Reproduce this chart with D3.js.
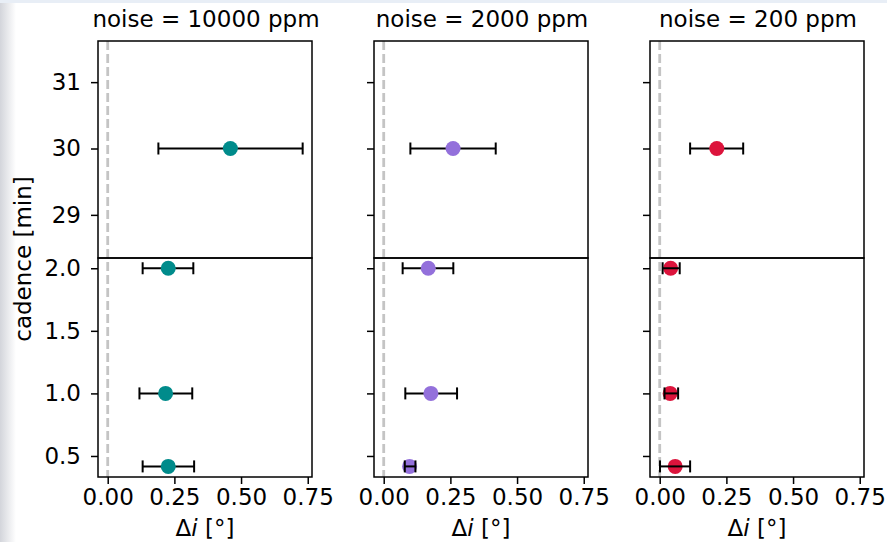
<!DOCTYPE html>
<html>
<head>
<meta charset="utf-8">
<script src="https://cdn.jsdelivr.net/npm/d3@7"></script>
<style>
  body { margin: 0; background: #fff; }
  svg { display: block; font-family: "DejaVu Sans", sans-serif; }
  .tick line { stroke: #000; stroke-width: 1.5; }
  .domain { display: none; }
</style>
</head>
<body>
<svg width="887" height="542"></svg>
<script>
// cadence of each run in minutes (25 s for the last one)
var cadences = [30, 2.0, 1.0, 25 / 60];

var noiseTitles = ["noise = 10000 ppm", "noise = 2000 ppm", "noise = 200 ppm"];
var colors = ["#008b8b", "#9370db", "#dc143c"];

// delta i in degrees, with lower / upper end of the error bar
var di10000 = [0.460, 0.227, 0.217, 0.227];
var lo10000 = [0.190, 0.131, 0.119, 0.131];
var hi10000 = [0.731, 0.321, 0.317, 0.324];

var di2000 = [0.260, 0.167, 0.177, 0.097];
var lo2000 = [0.100, 0.071, 0.081, 0.079];
var hi2000 = [0.420, 0.261, 0.275, 0.119];

var di200 = [0.214, 0.041, 0.039, 0.058];
var lo200 = [0.114, 0.011, 0.018, 0.001];
var hi200 = [0.313, 0.075, 0.069, 0.114];

var xTicks = [0, 0.25, 0.5, 0.75];
var yTicksTop = [29, 30, 31];
var yTicksBottom = [0.5, 1.0, 1.5, 2.0];

var series = [
    { di: di10000, lo: lo10000, hi: hi10000 },
    { di: di2000, lo: lo2000, hi: hi2000 },
    { di: di200, lo: lo200, hi: hi200 }
];

var FONT = "DejaVu Sans";
var FS = 23;

var svg = d3.select("svg");

// faint strip of the slide behind the figure
var defs = svg.append("defs");
var grad = defs.append("linearGradient").attr("id", "edge");
grad.append("stop").attr("offset", "0%").attr("stop-color", "#d3d5db");
grad.append("stop").attr("offset", "100%").attr("stop-color", "#fff");
svg.append("rect").attr("x", 0).attr("y", 0).attr("width", 16).attr("height", 542).attr("fill", "url(#edge)");
svg.append("rect").attr("x", 0).attr("y", 0).attr("width", 887).attr("height", 3).attr("fill", "#e8eef6");

var panelLefts = [98, 374, 650];
var panelW = 214;
var topY = 41, midY = 258, botY = 477;
var r = 7.5;

function styleAxis(sel) {
    sel.attr("font-family", FONT).attr("font-size", FS);
    sel.selectAll(".tick text").attr("fill", "#000");
}

panelLefts.forEach(function (left, p) {
    var x = d3.scaleLinear().domain([-0.0364, 0.766]).range([left, left + panelW]);
    var yTop = d3.scaleLinear().domain([28.35, 31.62]).range([midY, topY]);
    var yBot = d3.scaleLinear().domain([0.332, 2.082]).range([botY, midY]);
    var g = svg.append("g");

    // reference line at zero
    g.append("line")
        .attr("x1", x(0)).attr("x2", x(0))
        .attr("y1", topY).attr("y2", botY)
        .attr("stroke", "#c4c4c4").attr("stroke-width", 2.8)
        .attr("stroke-dasharray", "9,4");

    var s = series[p];
    var pts = cadences.map(function (c, i) {
        return { c: c, di: s.di[i], lo: s.lo[i], hi: s.hi[i] };
    });

    pts.forEach(function (d) {
        var y = d.c > 10 ? yTop(d.c) : yBot(d.c);
        var x0 = x(d.lo), x1 = x(d.hi);
        var bar = g.append("g");
        bar.append("line").attr("x1", x0).attr("x2", x1).attr("y1", y).attr("y2", y);
        bar.append("line").attr("x1", x0).attr("x2", x0).attr("y1", y - 6).attr("y2", y + 6);
        bar.append("line").attr("x1", x1).attr("x2", x1).attr("y1", y - 6).attr("y2", y + 6);
        bar.selectAll("line").attr("stroke", "#000").attr("stroke-width", 2);
        g.append("circle").attr("cx", x(d.di)).attr("cy", y).attr("r", r)
            .attr("fill", colors[p]);
        // short bars end up drawn over the marker
        if (x1 - x0 < 40) bar.raise();
    });

    var axTop = d3.axisLeft(yTop).tickValues(yTicksTop).tickSize(7).tickPadding(10)
        .tickFormat(p === 0 ? d3.format("d") : "");
    g.append("g").attr("transform", "translate(" + left + ",0)").call(axTop).call(styleAxis);

    var axBot = d3.axisLeft(yBot).tickValues(yTicksBottom).tickSize(7).tickPadding(10)
        .tickFormat(p === 0 ? d3.format(".1f") : "");
    g.append("g").attr("transform", "translate(" + left + ",0)").call(axBot).call(styleAxis);

    var axX = d3.axisBottom(x).tickValues(xTicks).tickSize(7).tickPadding(5)
        .tickFormat(d3.format(".2f"));
    g.append("g").attr("transform", "translate(0," + botY + ")").call(axX).call(styleAxis);

    // frames of the two stacked subplots
    [[topY, midY], [midY, botY]].forEach(function (b) {
        g.append("rect").attr("x", left).attr("y", b[0])
            .attr("width", panelW).attr("height", b[1] - b[0])
            .attr("fill", "none").attr("stroke", "#000").attr("stroke-width", 1.5);
    });

    g.append("text").attr("x", left + panelW / 2 + 1).attr("y", 27)
        .attr("text-anchor", "middle").attr("font-size", FS)
        .text(noiseTitles[p]);

    var xl = g.append("text").attr("x", left + panelW / 2).attr("y", 536)
        .attr("text-anchor", "middle").attr("font-size", FS);
    xl.append("tspan").text("\u0394");
    xl.append("tspan").attr("font-style", "italic").text("i");
    xl.append("tspan").text(" [\u00b0]");
});

svg.append("text")
    .attr("transform", "translate(31," + (topY + botY) / 2 + ") rotate(-90)")
    .attr("text-anchor", "middle").attr("font-size", FS)
    .text("cadence [min]");
</script>
</body>
</html>
